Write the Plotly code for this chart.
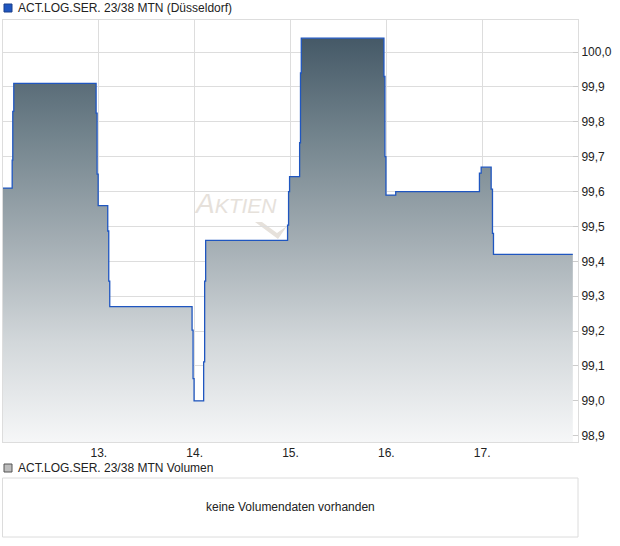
import plotly.graph_objects as go

# ---- data ----
times = [
    "2025-01-12 00:00", "2025-01-12 02:18", "2025-01-12 02:27", "2025-01-12 02:42",
    "2025-01-12 23:19", "2025-01-12 23:34", "2025-01-12 23:50",
    "2025-01-13 02:14", "2025-01-13 02:29", "2025-01-13 02:44",
    "2025-01-13 23:21", "2025-01-13 23:36", "2025-01-13 23:51",
    "2025-01-14 02:15", "2025-01-14 02:30", "2025-01-14 02:45",
    "2025-01-14 23:16", "2025-01-14 23:31", "2025-01-14 23:46",
    "2025-01-15 02:17", "2025-01-15 02:30", "2025-01-15 02:42",
    "2025-01-15 23:24", "2025-01-15 23:39", "2025-01-15 23:54",
    "2025-01-16 02:21",
    "2025-01-16 23:19", "2025-01-16 23:45",
    "2025-01-17 02:15", "2025-01-17 02:35", "2025-01-17 02:50",
    "2025-01-17 22:42",
]
prices = [
    99.61, 99.69, 99.83, 99.91,
    99.825, 99.65, 99.56,
    99.487, 99.343, 99.27,
    99.203, 99.064, 99.00,
    99.112, 99.343, 99.46,
    99.504, 99.60, 99.643,
    99.74, 99.94, 100.04,
    99.93, 99.70, 99.59,
    99.60,
    99.653, 99.67,
    99.607, 99.48, 99.42,
    99.42,
]
y_ticks = [98.9, 99.0, 99.1, 99.2, 99.3, 99.4, 99.5, 99.6, 99.7, 99.8, 99.9, 100.0]
x_ticks = ["2025-01-13", "2025-01-14", "2025-01-15", "2025-01-16", "2025-01-17"]
title_main = "ACT.LOG.SER. 23/38 MTN (Düsseldorf)"
title_vol = "ACT.LOG.SER. 23/38 MTN Volumen"
no_vol_text = "keine Volumendaten vorhanden"

W, H = 620, 546
ML, MR, MT, MB = 3, 42, 20, 104
PH = H - MT - MB
PW = W - ML - MR


def px(X):
    return (X - ML) / PW


def py(Y):
    return (H - MB - Y) / PH


FONT = "Liberation Sans, Arial, sans-serif"
WM = "#e6e1db"

fig = go.Figure()
fig.add_trace(go.Scatter(
    x=times, y=prices, mode="lines",
    line=dict(shape="hv", color="#1f56c0", width=1.3),
    fill="tozeroy",
    fillgradient=dict(
        type="vertical",
        colorscale=[[0, "#f6f7f8"], [0.25, "#d2d7da"], [0.5, "#a3adb3"],
                    [0.75, "#74858e"], [1, "#455967"]],
        start=98.88, stop=100.04,
    ),
    hoverinfo="skip", showlegend=False,
))

shapes = [
    # volume panel box
    dict(type="rect", xref="paper", yref="paper", x0=px(2.5), x1=px(578),
         y0=py(537), y1=py(478), line=dict(color="#dcdcdc", width=1)),
    # legend markers
    dict(type="rect", xref="paper", yref="paper", x0=px(4), x1=px(12),
         y0=py(12), y1=py(4), fillcolor="#1f56c0", line=dict(color="#1a3f8a", width=1)),
    dict(type="rect", xref="paper", yref="paper", x0=px(4), x1=px(12),
         y0=py(472), y1=py(464), fillcolor="#bdbdbd", line=dict(color="#555555", width=1)),
    # watermark swoosh
    dict(type="path", xref="paper", yref="paper",
         path=(f"M {px(255)},{py(222)} L {px(262)},{py(222)} L {px(277)},{py(233)} "
               f"L {px(287)},{py(226)} L {px(278)},{py(239)} Z"),
         fillcolor=WM, line=dict(width=0), layer="below"),
]

annotations = [
    dict(xref="paper", yref="paper", x=px(16), y=py(7.5), text=title_main,
         showarrow=False, xanchor="left", yanchor="middle",
         font=dict(family=FONT, size=12, color="#222222")),
    dict(xref="paper", yref="paper", x=px(16), y=py(467.5), text=title_vol,
         showarrow=False, xanchor="left", yanchor="middle",
         font=dict(family=FONT, size=12, color="#222222")),
    dict(xref="paper", yref="paper", x=px(290), y=py(507), text=no_vol_text,
         showarrow=False, xanchor="center", yanchor="middle",
         font=dict(family=FONT, size=12, color="#222222")),
    dict(xref="paper", yref="paper", x=px(235), y=py(204),
         text="<i>A<span style='font-size:21px'>KTIEN</span></i>",
         showarrow=False, xanchor="center", yanchor="middle",
         font=dict(family=FONT, size=28, color=WM)),
]

fig.update_layout(
    width=W, height=H,
    margin=dict(l=ML, r=MR, t=MT, b=MB, pad=0),
    paper_bgcolor="white", plot_bgcolor="white",
    separators=",.",
    font=dict(family=FONT, size=12, color="#222222"),
    shapes=shapes, annotations=annotations,
    showlegend=False,
)
fig.update_xaxes(
    type="date", range=["2025-01-12 00:00", "2025-01-18 00:00"],
    tickvals=x_ticks, tickformat="%d.", ticks="",
    showgrid=True, gridcolor="#dddddd", gridwidth=1,
    showline=True, linecolor="#dddddd", mirror=True,
    tickfont=dict(size=12, color="#222222"), zeroline=False,
)
fig.update_yaxes(
    side="right", range=[98.882, 100.092],
    tickvals=y_ticks, tickformat=".1f",
    ticks="inside", ticklen=5, tickcolor="#cccccc",
    showgrid=True, gridcolor="#dddddd", gridwidth=1,
    showline=True, linecolor="#dddddd", mirror=True,
    tickfont=dict(size=12, color="#222222"), zeroline=False,
)

fig.write_html(
    "out.html",
    config={"displayModeBar": False},
    post_script="document.body.style.margin='0';document.body.style.overflow='hidden';",
)
